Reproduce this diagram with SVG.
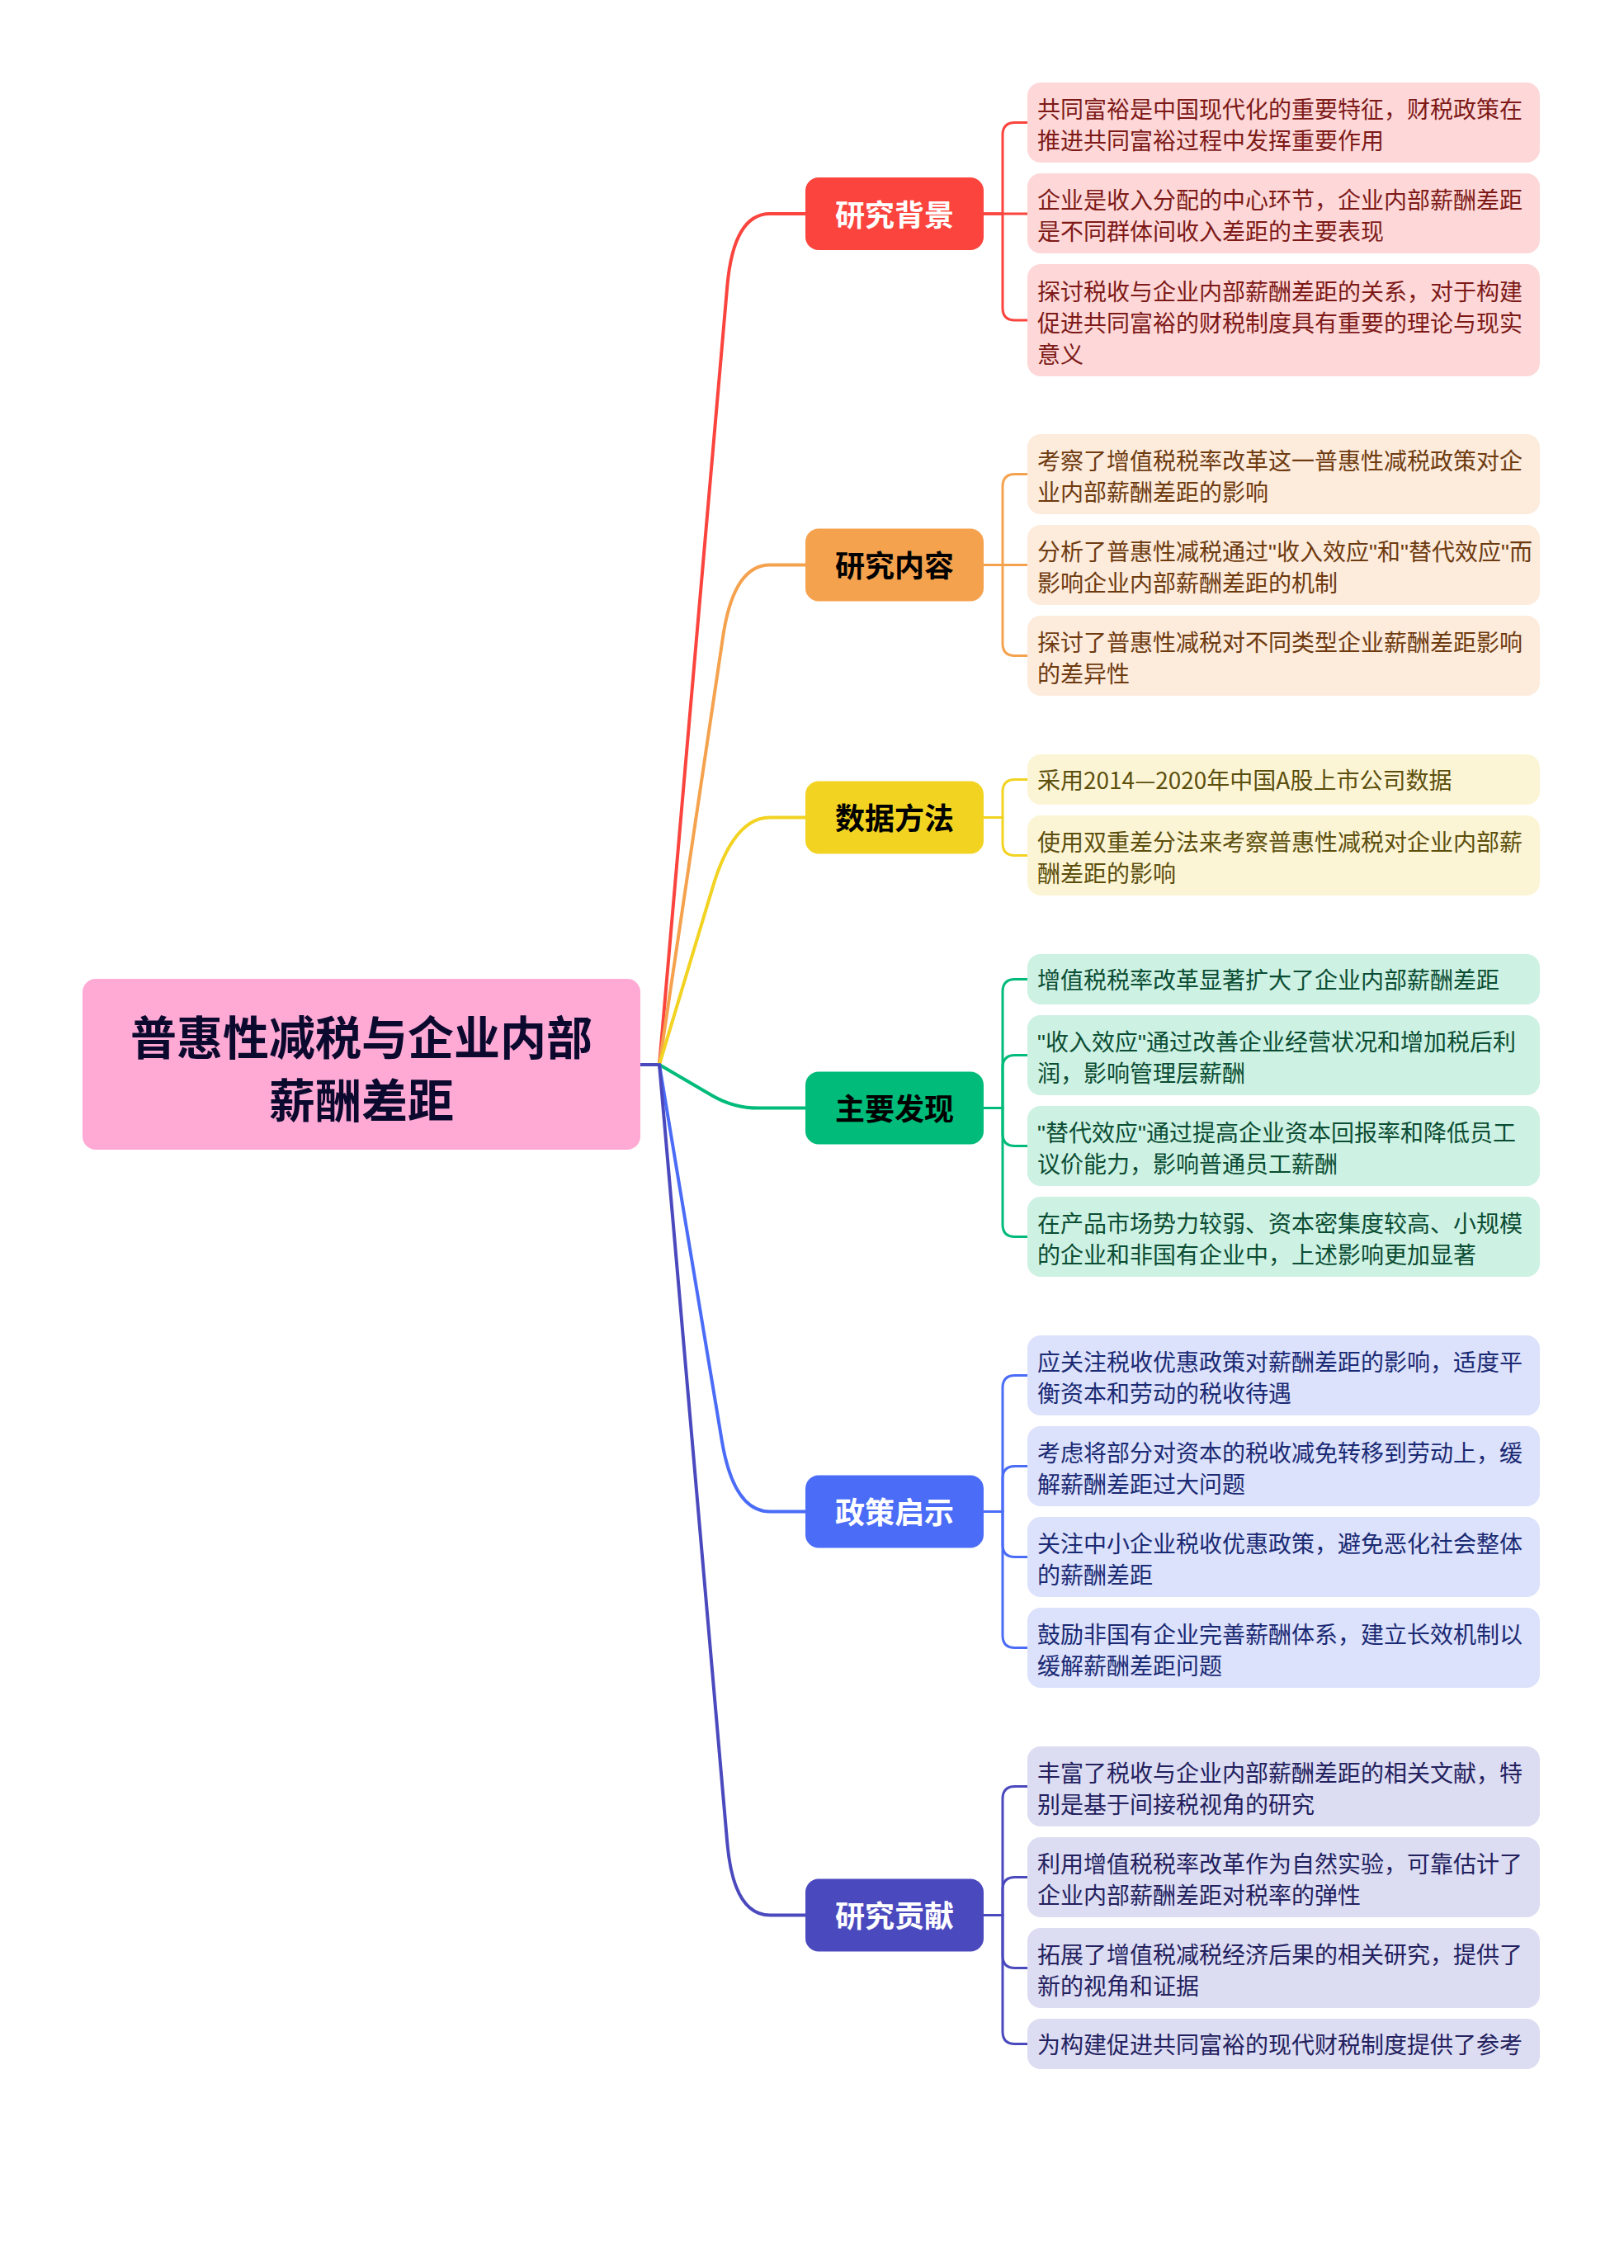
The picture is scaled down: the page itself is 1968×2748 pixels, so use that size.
<svg xmlns="http://www.w3.org/2000/svg" width="1968" height="2748" viewBox="0 0 1968 2748">
<style>
text{font-family:"Noto Sans CJK SC","Noto Sans",sans-serif;}
.root{font-size:56px;font-weight:700;fill:#0B0A2E;text-anchor:middle;}
.br{font-size:36px;font-weight:700;text-anchor:middle;}
.lf{font-size:28px;}
.q{font-family:"Liberation Sans","Noto Sans CJK SC",sans-serif;}
.mc{fill:none;stroke-width:4;stroke-linecap:round;stroke-linejoin:round;}
.bc{fill:none;stroke-width:3;stroke-linejoin:round;}
.c1{stroke:#FA443D;} .c2{stroke:#F5A24E;} .c3{stroke:#F2D322;} .c4{stroke:#00BB7A;} .c5{stroke:#4A6CF7;} .c6{stroke:#4B49BE;}
.l1{fill:#FED8D8;} .l2{fill:#FDEBDC;} .l3{fill:#FCF5D5;} .l4{fill:#CDF1E3;} .l5{fill:#DCE1FC;} .l6{fill:#DCDCF2;}
.t1{fill:#7D1A18;} .t2{fill:#6E3B10;} .t3{fill:#5C4F0E;} .t4{fill:#0B4D33;} .t5{fill:#1A2A73;} .t6{fill:#23215E;}
</style>
<rect width="1968" height="2748" fill="#FFFFFF"/>
<g id="connectors">
<path class="mc c6" d="M776 1290 L799 1290"/>
<path class="mc c1" d="M799 1290 L881.3 346.7 Q889 259 933 259 L976 259"/>
<path class="mc c2" d="M799 1290 L876.1 771.5 Q889 684.5 933 684.5 L976 684.5"/>
<path class="mc c3" d="M799 1290 L863.7 1074.8 Q889 990.5 933 990.5 L976 990.5"/>
<path class="mc c4" d="M799 1290 L863.1 1327.4 Q889 1342.5 919 1342.5 L976 1342.5"/>
<path class="mc c5" d="M799 1290 L874.6 1744.7 Q889 1831.5 933 1831.5 L976 1831.5"/>
<path class="mc c6" d="M799 1290 L881.3 2232.8 Q889 2320.5 933 2320.5 L976 2320.5"/>
<path class="bc c1" d="M1192 259 L1215 259 L1215 163.5 Q1215 148.5 1230 148.5 L1245 148.5"/>
<path class="bc c1" d="M1192 259 L1245 259"/>
<path class="bc c1" d="M1192 259 L1215 259 L1215 373 Q1215 388 1230 388 L1245 388"/>
<path class="bc c2" d="M1192 684.5 L1215 684.5 L1215 589.5 Q1215 574.5 1230 574.5 L1245 574.5"/>
<path class="bc c2" d="M1192 684.5 L1245 684.5"/>
<path class="bc c2" d="M1192 684.5 L1215 684.5 L1215 779.5 Q1215 794.5 1230 794.5 L1245 794.5"/>
<path class="bc c3" d="M1192 990.5 L1215 990.5 L1215 959.5 Q1215 944.5 1230 944.5 L1245 944.5"/>
<path class="bc c3" d="M1192 990.5 L1215 990.5 L1215 1021.5 Q1215 1036.5 1230 1036.5 L1245 1036.5"/>
<path class="bc c4" d="M1192 1342.5 L1215 1342.5 L1215 1201.5 Q1215 1186.5 1230 1186.5 L1245 1186.5"/>
<path class="bc c4" d="M1192 1342.5 L1215 1342.5 L1215 1293.5 Q1215 1278.5 1230 1278.5 L1245 1278.5"/>
<path class="bc c4" d="M1192 1342.5 L1215 1342.5 L1215 1373.5 Q1215 1388.5 1230 1388.5 L1245 1388.5"/>
<path class="bc c4" d="M1192 1342.5 L1215 1342.5 L1215 1483.5 Q1215 1498.5 1230 1498.5 L1245 1498.5"/>
<path class="bc c5" d="M1192 1831.5 L1215 1831.5 L1215 1681.5 Q1215 1666.5 1230 1666.5 L1245 1666.5"/>
<path class="bc c5" d="M1192 1831.5 L1215 1831.5 L1215 1791.5 Q1215 1776.5 1230 1776.5 L1245 1776.5"/>
<path class="bc c5" d="M1192 1831.5 L1215 1831.5 L1215 1871.5 Q1215 1886.5 1230 1886.5 L1245 1886.5"/>
<path class="bc c5" d="M1192 1831.5 L1215 1831.5 L1215 1981.5 Q1215 1996.5 1230 1996.5 L1245 1996.5"/>
<path class="bc c6" d="M1192 2320.5 L1215 2320.5 L1215 2179.5 Q1215 2164.5 1230 2164.5 L1245 2164.5"/>
<path class="bc c6" d="M1192 2320.5 L1215 2320.5 L1215 2289.5 Q1215 2274.5 1230 2274.5 L1245 2274.5"/>
<path class="bc c6" d="M1192 2320.5 L1215 2320.5 L1215 2369.5 Q1215 2384.5 1230 2384.5 L1245 2384.5"/>
<path class="bc c6" d="M1192 2320.5 L1215 2320.5 L1215 2461.5 Q1215 2476.5 1230 2476.5 L1245 2476.5"/>
</g>

<g id="root">
<rect x="100" y="1186" width="676" height="207" rx="16" fill="#FFA9D5"/>
<text class="root" x="438" y="1278">普惠性减税与企业内部</text>
<text class="root" x="438" y="1354">薪酬差距</text>
</g>

<g id="b1"><rect x="976" y="215" width="216" height="88" rx="16" fill="#FA443D"/><text class="br" x="1084" y="273.5" fill="#FFFFFF">研究背景</text></g>
<g id="b1-1"><rect class="l1" x="1245" y="100" width="621" height="97" rx="16"/><text class="lf t1" x="1257" y="143">共同富裕是中国现代化的重要特征，财税政策在</text><text class="lf t1" x="1257" y="181">推进共同富裕过程中发挥重要作用</text></g>
<g id="b1-2"><rect class="l1" x="1245" y="210" width="621" height="97" rx="16"/><text class="lf t1" x="1257" y="253">企业是收入分配的中心环节，企业内部薪酬差距</text><text class="lf t1" x="1257" y="291">是不同群体间收入差距的主要表现</text></g>
<g id="b1-3"><rect class="l1" x="1245" y="320" width="621" height="136" rx="16"/><text class="lf t1" x="1257" y="363.5">探讨税收与企业内部薪酬差距的关系，对于构建</text><text class="lf t1" x="1257" y="401.5">促进共同富裕的财税制度具有重要的理论与现实</text><text class="lf t1" x="1257" y="439.5">意义</text></g>

<g id="b2"><rect x="976" y="640.5" width="216" height="88" rx="16" fill="#F5A24E"/><text class="br" x="1084" y="699" fill="#000000">研究内容</text></g>
<g id="b2-1"><rect class="l2" x="1245" y="526" width="621" height="97" rx="16"/><text class="lf t2" x="1257" y="569">考察了增值税税率改革这一普惠性减税政策对企</text><text class="lf t2" x="1257" y="607">业内部薪酬差距的影响</text></g>
<g id="b2-2"><rect class="l2" x="1245" y="636" width="621" height="97" rx="16"/><text class="lf t2" x="1257" y="679">分析了普惠性减税通过<tspan class="q">"</tspan>收入效应<tspan class="q">"</tspan>和<tspan class="q">"</tspan>替代效应<tspan class="q">"</tspan>而</text><text class="lf t2" x="1257" y="717">影响企业内部薪酬差距的机制</text></g>
<g id="b2-3"><rect class="l2" x="1245" y="746" width="621" height="97" rx="16"/><text class="lf t2" x="1257" y="789">探讨了普惠性减税对不同类型企业薪酬差距影响</text><text class="lf t2" x="1257" y="827">的差异性</text></g>

<g id="b3"><rect x="976" y="946.5" width="216" height="88" rx="16" fill="#F2D322"/><text class="br" x="1084" y="1005" fill="#000000">数据方法</text></g>
<g id="b3-1"><rect class="l3" x="1245" y="914" width="621" height="61" rx="16"/><text class="lf t3" x="1257" y="956">采用2014—2020年中国A股上市公司数据</text></g>
<g id="b3-2"><rect class="l3" x="1245" y="988" width="621" height="97" rx="16"/><text class="lf t3" x="1257" y="1031">使用双重差分法来考察普惠性减税对企业内部薪</text><text class="lf t3" x="1257" y="1069">酬差距的影响</text></g>

<g id="b4"><rect x="976" y="1298.5" width="216" height="88" rx="16" fill="#00BB7A"/><text class="br" x="1084" y="1357" fill="#000000">主要发现</text></g>
<g id="b4-1"><rect class="l4" x="1245" y="1156" width="621" height="61" rx="16"/><text class="lf t4" x="1257" y="1198">增值税税率改革显著扩大了企业内部薪酬差距</text></g>
<g id="b4-2"><rect class="l4" x="1245" y="1230" width="621" height="97" rx="16"/><text class="lf t4" x="1257" y="1273"><tspan class="q">"</tspan>收入效应<tspan class="q">"</tspan>通过改善企业经营状况和增加税后利</text><text class="lf t4" x="1257" y="1311">润，影响管理层薪酬</text></g>
<g id="b4-3"><rect class="l4" x="1245" y="1340" width="621" height="97" rx="16"/><text class="lf t4" x="1257" y="1383"><tspan class="q">"</tspan>替代效应<tspan class="q">"</tspan>通过提高企业资本回报率和降低员工</text><text class="lf t4" x="1257" y="1421">议价能力，影响普通员工薪酬</text></g>
<g id="b4-4"><rect class="l4" x="1245" y="1450" width="621" height="97" rx="16"/><text class="lf t4" x="1257" y="1493">在产品市场势力较弱、资本密集度较高、小规模</text><text class="lf t4" x="1257" y="1531">的企业和非国有企业中，上述影响更加显著</text></g>

<g id="b5"><rect x="976" y="1787.5" width="216" height="88" rx="16" fill="#4A6CF7"/><text class="br" x="1084" y="1846" fill="#FFFFFF">政策启示</text></g>
<g id="b5-1"><rect class="l5" x="1245" y="1618" width="621" height="97" rx="16"/><text class="lf t5" x="1257" y="1661">应关注税收优惠政策对薪酬差距的影响，适度平</text><text class="lf t5" x="1257" y="1699">衡资本和劳动的税收待遇</text></g>
<g id="b5-2"><rect class="l5" x="1245" y="1728" width="621" height="97" rx="16"/><text class="lf t5" x="1257" y="1771">考虑将部分对资本的税收减免转移到劳动上，缓</text><text class="lf t5" x="1257" y="1809">解薪酬差距过大问题</text></g>
<g id="b5-3"><rect class="l5" x="1245" y="1838" width="621" height="97" rx="16"/><text class="lf t5" x="1257" y="1881">关注中小企业税收优惠政策，避免恶化社会整体</text><text class="lf t5" x="1257" y="1919">的薪酬差距</text></g>
<g id="b5-4"><rect class="l5" x="1245" y="1948" width="621" height="97" rx="16"/><text class="lf t5" x="1257" y="1991">鼓励非国有企业完善薪酬体系，建立长效机制以</text><text class="lf t5" x="1257" y="2029">缓解薪酬差距问题</text></g>

<g id="b6"><rect x="976" y="2276.5" width="216" height="88" rx="16" fill="#4B49BE"/><text class="br" x="1084" y="2335" fill="#FFFFFF">研究贡献</text></g>
<g id="b6-1"><rect class="l6" x="1245" y="2116" width="621" height="97" rx="16"/><text class="lf t6" x="1257" y="2159">丰富了税收与企业内部薪酬差距的相关文献，特</text><text class="lf t6" x="1257" y="2197">别是基于间接税视角的研究</text></g>
<g id="b6-2"><rect class="l6" x="1245" y="2226" width="621" height="97" rx="16"/><text class="lf t6" x="1257" y="2269">利用增值税税率改革作为自然实验，可靠估计了</text><text class="lf t6" x="1257" y="2307">企业内部薪酬差距对税率的弹性</text></g>
<g id="b6-3"><rect class="l6" x="1245" y="2336" width="621" height="97" rx="16"/><text class="lf t6" x="1257" y="2379">拓展了增值税减税经济后果的相关研究，提供了</text><text class="lf t6" x="1257" y="2417">新的视角和证据</text></g>
<g id="b6-4"><rect class="l6" x="1245" y="2446" width="621" height="61" rx="16"/><text class="lf t6" x="1257" y="2488">为构建促进共同富裕的现代财税制度提供了参考</text></g>
</svg>
